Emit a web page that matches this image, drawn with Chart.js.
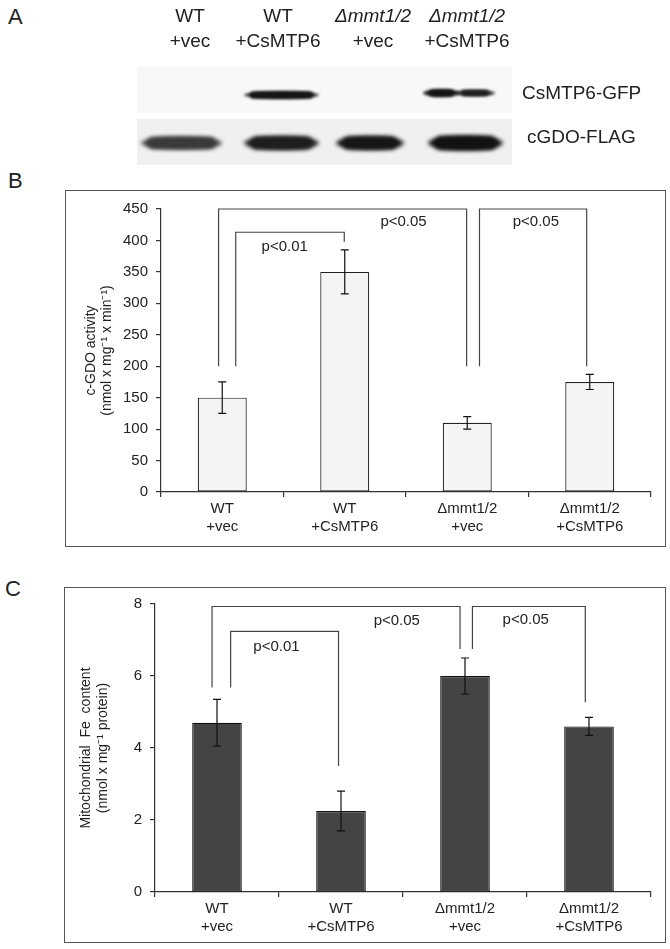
<!DOCTYPE html>
<html lang="en">
<head>
    <meta charset="UTF-8">
    <title>CsMTP6 figure</title>
    <script src="https://cdn.jsdelivr.net/npm/chart.js"></script>
    <style>
        body { margin: 0; background: #fff; font-family: 'Liberation Sans', Arial, sans-serif; color: #222; }
        #page { position: relative; width: 670px; height: 949px; overflow: hidden; }
        .abs { position: absolute; white-space: nowrap; }
        .letter { font-size: 22px; }
        .lane { font-size: 19px; text-align: center; width: 120px; line-height: 25px; }
        .blotlbl { font-size: 19px; }
        .frame { position: absolute; border: 1.5px solid #555; box-sizing: border-box; }
        canvas.chart { position: absolute; }
    </style>
</head>
<body>
<div id="page">
    <div class="abs letter" style="left:8px; top:4px;">A</div>
    <div class="abs letter" style="left:8px; top:168px;">B</div>
    <div class="abs letter" style="left:5px; top:576px;">C</div>

    <canvas id="blot" width="670" height="180" style="position:absolute; left:0; top:0;"></canvas>
    <div class="abs lane" style="left:130px; top:3px;">WT<br>+vec</div>
    <div class="abs lane" style="left:218px; top:3px;">WT<br>+CsMTP6</div>
    <div class="abs lane" style="left:313px; top:3px;"><i>&Delta;mmt1/2</i><br>+vec</div>
    <div class="abs lane" style="left:407px; top:3px;"><i>&Delta;mmt1/2</i><br>+CsMTP6</div>
    <div class="abs blotlbl" style="left:522px; top:82px;">CsMTP6-GFP</div>
    <div class="abs blotlbl" style="left:527px; top:126px;">cGDO-FLAG</div>

    <div class="frame" style="left:65px; top:190px; width:601px; height:357px;"></div>
    <canvas id="gdoChart" class="chart" width="601" height="357" style="left:65px; top:190px;"></canvas>

    <div class="frame" style="left:64px; top:587px; width:602px; height:356px;"></div>
    <canvas id="feChart" class="chart" width="602" height="356" style="left:64px; top:587px;"></canvas>
</div>

<script>
    // categories
    const groups = [['WT', '+vec'], ['WT', '+CsMTP6'], ['\u0394mmt1/2', '+vec'], ['\u0394mmt1/2', '+CsMTP6']];

    // panel B - c-GDO activity
    const gdoActivity = [150, 350, 110, 175];
    const gdoError = [25, 35, 10, 12];
    const gdoMax = 450, gdoStep = 50;
    // brackets: [left index, right index, left foot, right foot, top]
    const gdoBrackets = [[-0.03, 1.995, 200, 200, 450], [0.11, 0.996, 200, 398, 413], [2.10, 2.975, 200, 200, 450]];
    const gdoPText = ['p<0.01', 'p<0.05', 'p<0.05'];
    const gdoPX = [0.51, 1.48, 2.56];
    const gdoPY = [390, 429, 429];

    // panel C - mitochondrial Fe
    const feContent = [4.7, 2.25, 6.0, 4.6];
    const feError = [0.65, 0.55, 0.5, 0.25];
    const feMax = 8, feStep = 2;
    const feBrackets = [[-0.04, 1.96, 5.68, 6.75, 7.93], [0.11, 0.98, 5.68, 3.5, 7.24], [2.06, 2.97, 6.75, 5.27, 7.93]];
    const fePText = ['p<0.01', 'p<0.05', 'p<0.05'];
    const fePX = [0.48, 1.45, 2.49];
    const fePY = [6.81, 7.53, 7.56];

    const FONT = "'Liberation Sans', Arial, sans-serif";

    // western blot (panel A), plain canvas
    function drawBlot() {
        const ctx = document.getElementById('blot').getContext('2d');
        ctx.fillStyle = '#f8f8f8';
        ctx.fillRect(137, 67, 375, 46);
        ctx.fillStyle = '#f0f0f0';
        ctx.fillRect(137, 119, 375, 46);

        function band(x1, x2, yc, h, color, blur) {
            ctx.save();
            ctx.filter = 'blur(' + blur + 'px)';
            ctx.fillStyle = color;
            ctx.beginPath();
            ctx.ellipse((x1 + x2) / 2, yc, (x2 - x1) / 2, h / 2, 0, 0, Math.PI * 2);
            ctx.fill();
            ctx.beginPath();
            ctx.roundRect(x1 + 6, yc - h / 2, x2 - x1 - 12, h, h / 2);
            ctx.fill();
            ctx.restore();
        }
        band(244, 319, 95, 7, '#151515', 1.5);
        band(423, 460, 93, 7, '#151515', 1.5);
        band(455, 495, 93, 6, '#202020', 1.5);
        band(141, 222, 143, 12, '#3a3a3a', 2);
        band(244, 319, 143, 13, '#1e1e1e', 2);
        band(336, 404, 143, 13, '#161616', 2);
        band(428, 503, 143, 14, '#111', 2);
    }
    drawBlot();

    const extrasPlugin = {
        id: 'extras',
        afterDatasetsDraw(chart, args, opts) {
            const ctx = chart.ctx;
            const xs = chart.scales.x, ys = chart.scales.y;
            ctx.save();

            // error bars
            ctx.strokeStyle = '#111';
            ctx.lineWidth = 1.2;
            opts.values.forEach(function(v, i) {
                const px = xs.getPixelForValue(i);
                const top = ys.getPixelForValue(v + opts.errors[i]);
                const bot = ys.getPixelForValue(v - opts.errors[i]);
                ctx.beginPath();
                ctx.moveTo(px, top); ctx.lineTo(px, bot);
                ctx.moveTo(px - 4, top); ctx.lineTo(px + 4, top);
                ctx.moveTo(px - 4, bot); ctx.lineTo(px + 4, bot);
                ctx.stroke();
            });

            // significance brackets
            ctx.strokeStyle = '#444';
            opts.brackets.forEach(function(b) {
                const xl = xs.getPixelForValue(b[0]), xr = xs.getPixelForValue(b[1]);
                ctx.beginPath();
                ctx.moveTo(xl, ys.getPixelForValue(b[2]));
                ctx.lineTo(xl, ys.getPixelForValue(b[4]));
                ctx.lineTo(xr, ys.getPixelForValue(b[4]));
                ctx.lineTo(xr, ys.getPixelForValue(b[3]));
                ctx.stroke();
            });

            ctx.fillStyle = '#222';
            ctx.font = '15px ' + FONT;
            ctx.textAlign = 'center';
            ctx.textBaseline = 'middle';
            opts.pText.forEach(function(t, i) {
                ctx.fillText(t, xs.getPixelForValue(opts.pX[i]), ys.getPixelForValue(opts.pY[i]));
            });

            // y axis title
            const cy = (chart.chartArea.top + chart.chartArea.bottom) / 2;
            ctx.font = '14px ' + FONT;
            opts.title.forEach(function(line, i) {
                ctx.save();
                ctx.translate(chart.chartArea.left + opts.titleX[i], cy);
                ctx.rotate(-Math.PI / 2);
                ctx.fillText(line, 0, 0);
                ctx.restore();
            });
            ctx.restore();
        }
    };

    function makeChart(id, values, errors, fill, border, max, step, pad, yWidth, xHeight, extras) {
        const ctx = document.getElementById(id).getContext('2d');
        return new Chart(ctx, {
            type: 'bar',
            data: {
                labels: groups,
                datasets: [{
                    data: values,
                    backgroundColor: fill,
                    borderColor: border,
                    borderWidth: 1.2,
                    borderSkipped: false,
                    categoryPercentage: 1,
                    barPercentage: 0.4
                }]
            },
            options: {
                responsive: false,
                animation: false,
                devicePixelRatio: 1,
                layout: { padding: pad },
                plugins: {
                    legend: { display: false },
                    tooltip: { enabled: false },
                    extras: extras
                },
                scales: {
                    x: {
                        offset: true,
                        grid: { offset: true, drawOnChartArea: false, drawTicks: true, tickLength: 5, color: '#333', lineWidth: 1.2 },
                        border: { display: true, color: '#333', width: 1.2 },
                        ticks: { color: '#222', font: { family: FONT, size: 15 }, padding: 3, maxRotation: 0 },
                        afterFit: function(scale) { scale.height = xHeight; }
                    },
                    y: {
                        min: 0,
                        max: max,
                        grid: { drawOnChartArea: false, drawTicks: true, tickLength: 5, color: '#333', lineWidth: 1.2 },
                        border: { display: true, color: '#333', width: 1.2 },
                        ticks: { stepSize: step, color: '#222', font: { family: FONT, size: 15 }, padding: 8 },
                        afterFit: function(scale) { scale.width = yWidth; }
                    }
                }
            },
            plugins: [extrasPlugin]
        });
    }

    makeChart('gdoChart', gdoActivity, gdoError, '#f4f4f4', '#222', gdoMax, gdoStep,
        { left: 0, right: 15, top: 19, bottom: 10 }, 96, 45, {
            values: gdoActivity, errors: gdoError, brackets: gdoBrackets,
            pText: gdoPText, pX: gdoPX, pY: gdoPY,
            title: ['c-GDO activity', '(nmol x mg\u207B\u00B9 x min\u207B\u00B9)'], titleX: [-70, -54]
        });

    makeChart('feChart', feContent, feError, '#444444', '#111', feMax, feStep,
        { left: 0, right: 15, top: 16, bottom: 5 }, 91, 46, {
            values: feContent, errors: feError, brackets: feBrackets,
            pText: fePText, pX: fePX, pY: fePY,
            title: ['Mitochondrial  Fe  content', '(nmol x mg\u207B\u00B9 protein)'], titleX: [-69, -52]
        });
</script>
</body>
</html>
